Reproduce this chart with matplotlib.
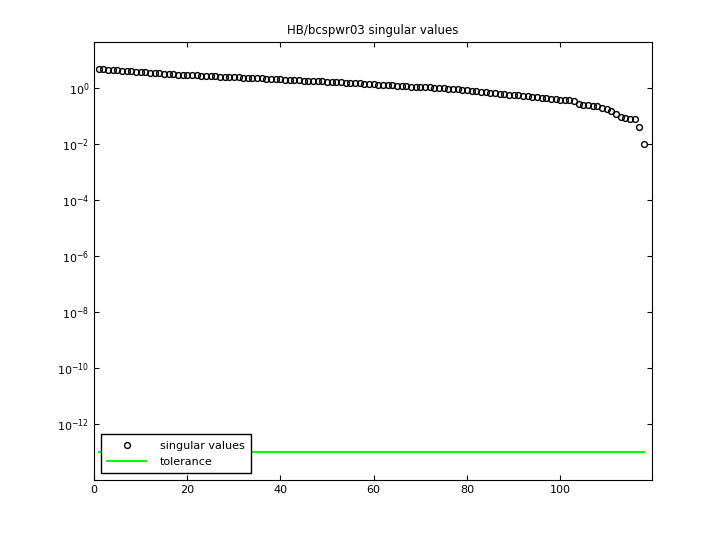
import matplotlib
matplotlib.use("Agg")
import matplotlib.pyplot as plt
import numpy as np

title = "HB/bcspwr03 singular values"
sv = [
    4.8, 4.7, 4.5, 4.4, 4.2, 4.1, 4.0, 3.9, 3.8, 3.7,
    3.6, 3.5, 3.4, 3.3, 3.2, 3.1, 3.05, 3.0, 2.95, 2.9,
    2.85, 2.8, 2.75, 2.7, 2.65, 2.6, 2.55, 2.5, 2.45, 2.4,
    2.38, 2.35, 2.3, 2.28, 2.25, 2.2, 2.15, 2.1, 2.05, 2.0,
    1.97, 1.93, 1.9, 1.87, 1.84, 1.8, 1.77, 1.74, 1.7, 1.67,
    1.64, 1.6, 1.57, 1.54, 1.5, 1.47, 1.44, 1.41, 1.38, 1.35,
    1.32, 1.29, 1.26, 1.23, 1.2, 1.17, 1.14, 1.12, 1.1, 1.08,
    1.06, 1.04, 1.02, 1.0, 0.97, 0.94, 0.91, 0.88, 0.85, 0.82,
    0.79, 0.76, 0.73, 0.70, 0.67, 0.64, 0.62, 0.60, 0.58, 0.56,
    0.54, 0.52, 0.50, 0.48, 0.46, 0.44, 0.42, 0.40, 0.39, 0.38,
    0.37, 0.36, 0.35, 0.26, 0.25, 0.24, 0.23, 0.22, 0.19, 0.17,
    0.15, 0.12, 0.09, 0.085, 0.08, 0.075, 0.04, 0.01,
]
tolerance = 1e-13
idx = np.arange(1, len(sv) + 1)

fig = plt.figure(figsize=(7.2, 5.4), dpi=100)
ax = fig.add_axes([94 / 720, 60 / 540, 558 / 720, 438 / 540])
ax.semilogy(idx, sv, "o", mfc="none", mec="black", mew=1.0, ms=4.2, label="singular values")
ax.semilogy([1, len(sv)], [tolerance, tolerance], color="#00ff00", lw=1.5, label="tolerance")
ax.set_xlim(0, 119.7)
ax.set_ylim(1e-14, 10 ** 1.64)
ax.set_yticks([10.0 ** k for k in range(-12, 1, 2)])
ax.minorticks_off()
ax.set_xticks(range(0, 101, 20))
ax.tick_params(direction="in", labelsize=8, top=True, right=True)
ax.set_title(title, fontsize=8.5)
ax.legend(loc="lower left", fontsize=8, fancybox=False, edgecolor="black", framealpha=1,
          borderaxespad=0.6, handlelength=3.5, borderpad=0.6, handletextpad=1.2)
fig.savefig("out.png", dpi=100)
